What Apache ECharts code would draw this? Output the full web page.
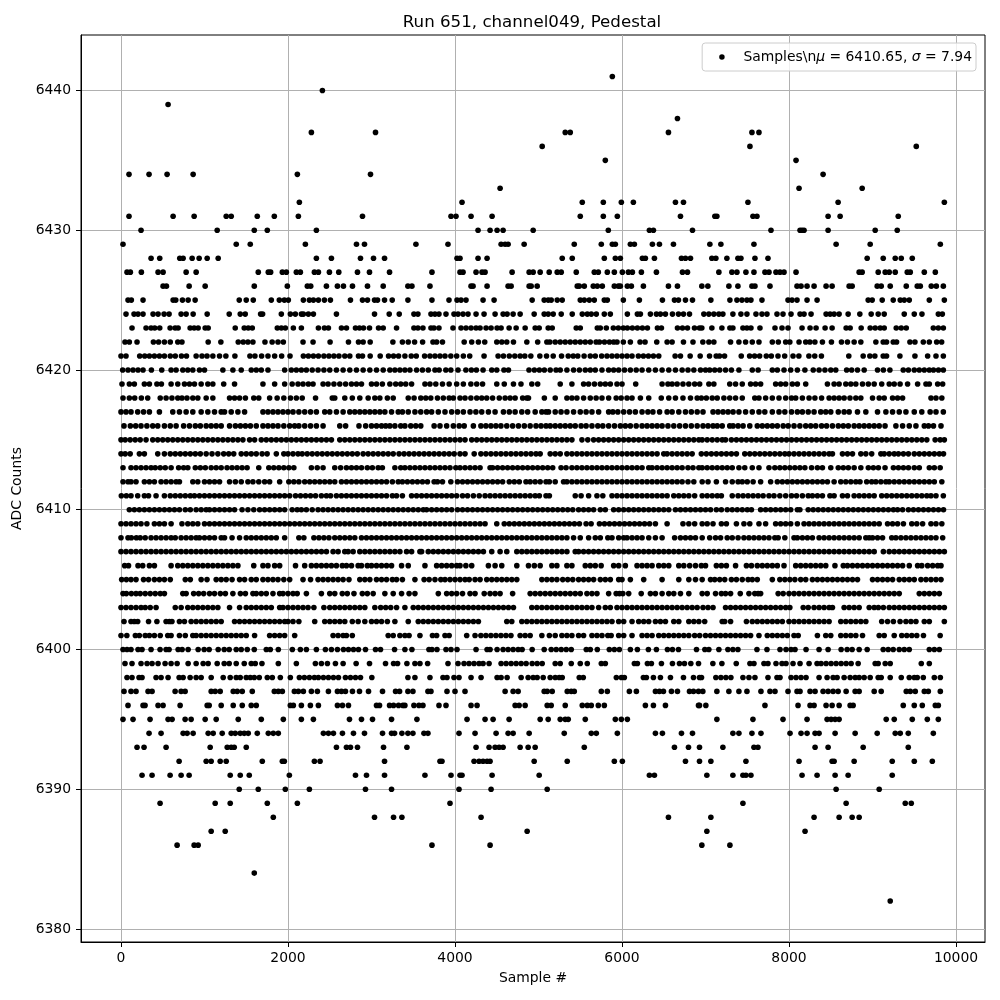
<!DOCTYPE html>
<html><head><meta charset="utf-8">
<style>html,body{margin:0;padding:0;background:#fff}#c{width:1000px;height:1000px}</style>
<script src="https://cdn.jsdelivr.net/npm/echarts@6/dist/echarts.min.js"></script>
</head><body><div id="c"></div>
<script>
const titleText = 'Run 651, channel049, Pedestal';
const xName = 'Sample #';
const yName = 'ADC Counts';
const xTicks = [0,2000,4000,6000,8000,10000];
const yTicks = [6380,6390,6400,6410,6420,6430,6440];
// Sample numbers, one list per ADC level
const y6441=[5884];
const y6440=[2412];
const y6439=[564];
const y6438=[6664];
const y6437=[2280,3048,5320,5380,6556,7556,7640];
const y6436=[5044,7532,9524];
const y6435=[5800,8084];
const y6434=[96,336,552,864,2112,2988,8408];
const y6433=[4540,8120,8876];
const y6432=[2136,4084,5524,5776,5992,6136,6640,6736,7508,8588,9860];
const y6431=[96,624,876,1260,1320,1632,1836,2124,2892,3952,4012,4192,4444,5500,5776,5944,6700,7112,7136,7568,7616,8468,8612,9308];
const y6430=[240,1152,1596,1752,2340,4276,4420,4504,4576,4936,5836,6328,6376,6844,7784,8132,8156,8180,8468,9032,9296];
const y6429=[24,1380,1548,2208,2820,2916,3532,3916,4552,4600,4636,4828,5428,5752,5884,5920,6100,6148,6364,6448,6616,7052,7184,7580,8564,8972,9812];
const y6428=[360,464,704,744,852,936,1032,1164,2340,2520,2868,3024,3156,4024,4060,4276,4384,5284,5404,5788,5920,5980,6244,6280,6388,6712,6760,6820,7076,7124,7256,7388,7424,7592,7748,8936,9128,9272,9344,9476];
const y6427=[72,112,244,444,504,780,900,1644,1764,1792,1932,1980,2100,2148,2316,2364,2496,2608,2832,2976,3216,3724,4060,4096,4252,4324,4360,4684,4888,4936,5020,5128,5224,5272,5452,5668,5716,5824,5908,6004,6076,6124,6232,6412,6724,6784,7160,7316,7376,7484,7580,7712,7760,7844,7892,7940,8084,8840,8876,9068,9152,9200,9272,9416,9452,9620,9752];
const y6426=[504,544,816,1008,1596,1992,2232,2272,2460,2592,2664,2772,2952,3140,3436,3484,3700,4192,4216,4384,4636,4672,4888,4912,4984,5464,5488,5548,5656,5704,5764,5908,5956,5980,6064,6112,6256,6556,6664,6956,7028,7280,7388,7556,7592,7772,8096,8144,8216,8300,8444,8516,8720,8756,9056,9104,9212,9404,9536,9572,9704,9764,9848];
const y6425=[84,124,264,624,656,736,804,888,1416,1500,1584,1800,1896,1956,2004,2184,2256,2304,2364,2436,2508,2748,2892,2952,3036,3072,3156,3248,3436,3724,3928,4024,4072,4132,4336,4468,4924,5068,5116,5152,5224,5284,5500,5548,5608,5668,5788,5824,6016,6208,6484,6628,6676,6760,6844,7064,7292,7376,7436,7496,7544,7676,7988,8036,8096,8216,8336,8948,8996,9116,9248,9332,9380,9440,9680,9860];
const y6424=[60,156,204,264,384,444,516,576,720,780,864,1032,1296,1428,1488,1672,1696,1920,2028,2088,2160,2184,2244,2304,2580,3036,3212,3332,3508,3556,3712,3760,3808,3892,3988,4036,4096,4156,4252,4348,4480,4576,4624,4696,4780,4948,5068,5116,5176,5272,5404,5524,5584,5632,5692,5788,5860,6064,6184,6220,6340,6412,6460,6520,6604,6676,6736,6808,6980,7040,7100,7160,7208,7328,7424,7496,7604,7676,7736,7856,7928,8024,8132,8180,8264,8444,8492,8540,8600,8708,8848,8984,9068,9140,9380,9500,9592,9788,9836];
const y6423=[132,300,360,404,464,588,648,684,828,876,924,1008,1044,1368,1476,1524,1572,1872,1920,1968,2064,2160,2364,2436,2484,2640,2700,2808,2856,2904,2976,3084,3140,3300,3508,3556,3616,3712,3748,3808,3976,4072,4132,4192,4252,4300,4372,4432,4504,4552,4648,4732,4840,4960,5008,5116,5164,5452,5500,5704,5740,5812,5896,5956,6016,6064,6124,6184,6244,6304,6424,6472,6664,6724,6784,6868,6928,6956,7076,7196,7292,7328,7448,7496,7544,7652,7832,7916,7988,8156,8252,8324,8432,8516,8684,8732,8864,8972,9032,9092,9140,9284,9344,9404,9728,9788,9848];
const y6422=[48,100,192,388,450,520,590,680,730,1044,1196,1404,1464,1520,1580,1724,1810,1880,1944,2180,2300,2504,2724,2844,2900,2984,3256,3370,3440,3516,3612,3736,3780,3850,4110,4200,4280,4356,4500,4560,4620,4700,4860,4990,5100,5136,5200,5260,5320,5380,5440,5500,5560,5620,5690,5730,5790,5850,5900,5940,6016,6100,6216,6276,6416,6540,6600,6736,6850,6968,7040,7100,7300,7400,7480,7560,7640,7800,7872,7960,8010,8120,8200,8250,8310,8400,8508,8628,8700,8780,8860,9040,9128,9168,9248,9288,9448,9508,9608,9680,9768,9828];
const y6421=[0,60,224,284,340,400,460,520,590,650,724,784,900,970,1030,1100,1180,1256,1364,1544,1604,1684,1760,1840,1924,2024,2184,2244,2304,2364,2430,2490,2550,2610,2680,2740,2844,2892,2984,3104,3204,3264,3324,3400,3476,3536,3636,3700,3760,3820,3880,3950,4020,4100,4176,4348,4516,4580,4650,4716,4780,4836,4908,5016,5096,5176,5276,5356,5416,5470,5546,5620,5680,5756,5820,5880,5940,6000,6060,6120,6196,6256,6316,6376,6440,6636,6700,6816,6936,7048,7128,7168,7228,7428,7528,7588,7648,7728,7788,7868,7948,8048,8118,8238,8308,8388,8716,8888,8968,9028,9128,9168,9328,9508,9660,9760,9848];
const y6420=[20,84,144,204,264,364,488,600,660,740,800,860,940,1000,1220,1340,1440,1560,1620,1680,1760,1960,2040,2100,2160,2220,2290,2360,2430,2500,2580,2660,2740,2820,2900,2980,3060,3140,3220,3280,3340,3400,3460,3540,3610,3680,3760,3810,3890,3950,4036,4130,4196,4256,4336,4440,4500,4586,4640,4886,4950,5010,5070,5140,5210,5260,5340,5420,5490,5560,5620,5680,5760,5840,5900,5960,6030,6100,6170,6240,6320,6400,6480,6560,6640,6720,6790,6860,6940,7000,7050,7110,7170,7240,7310,7400,7560,7630,7800,7860,7940,8020,8100,8190,8290,8360,8430,8500,8560,8690,8750,8820,8900,9060,9130,9208,9368,9430,9500,9560,9620,9680,9730,9790,9848];
const y6419=[12,100,160,280,340,430,484,600,680,760,820,880,960,1040,1100,1230,1360,1700,1840,1960,2050,2120,2180,2244,2300,2420,2480,2550,2620,2690,2760,2820,2880,3000,3060,3130,3220,3290,3350,3410,3480,3640,3700,3770,3850,3930,4020,4100,4190,4260,4330,4500,4590,4700,4790,4920,4990,5260,5400,5540,5600,5670,5740,5800,5860,5940,6000,6164,6480,6550,6600,6660,6730,6800,6870,6930,7040,7100,7290,7360,7440,7540,7600,7660,7840,7900,7960,8040,8100,8200,8460,8540,8600,8680,8740,8800,8880,8950,9020,9110,9200,9260,9330,9420,9540,9640,9680,9780,9840];
const y6418=[24,100,164,244,320,470,540,610,680,730,790,860,920,1020,1100,1300,1360,1420,1490,1590,1650,1780,1870,1950,2030,2100,2170,2330,2530,2560,2680,2770,2860,2960,3040,3100,3190,3260,3440,3510,3590,3650,3710,3790,3860,3930,3980,4060,4120,4190,4260,4320,4380,4450,4530,4600,4660,4720,4810,4860,4880,5070,5200,5340,5400,5460,5540,5620,5690,5760,5840,5930,5990,6060,6120,6220,6320,6470,6560,6640,6730,6820,6900,6950,7010,7080,7140,7220,7290,7360,7440,7590,7640,7720,7800,7880,7960,8030,8080,8160,8240,8310,8390,8480,8540,8600,8660,8730,8800,8860,9000,9080,9140,9240,9300,9360,9700,9760,9830];
const y6417=[0,60,120,200,270,340,460,620,700,780,860,960,1040,1120,1200,1240,1320,1400,1480,1700,1760,1820,1880,1940,2000,2060,2130,2200,2270,2340,2440,2500,2580,2660,2740,2800,2860,2920,2980,3040,3100,3160,3240,3320,3370,3440,3520,3590,3660,3720,3800,3880,3960,4030,4100,4180,4250,4320,4400,4480,4580,4650,4720,4800,4870,4960,5040,5090,5120,5200,5270,5340,5420,5500,5570,5640,5720,5840,5890,5950,6020,6090,6160,6240,6310,6370,6450,6540,6600,6680,6760,6830,6900,6970,7090,7150,7210,7270,7330,7400,7480,7560,7640,7710,7800,7880,7950,8030,8100,8160,8230,8300,8380,8440,8500,8590,8660,8720,8820,8920,9060,9160,9240,9320,9400,9500,9590,9690,9760,9848];
const y6416=[36,112,176,240,310,380,440,520,590,660,750,820,890,950,1020,1080,1140,1200,1300,1370,1430,1490,1550,1620,1700,1760,1820,1880,1950,2020,2080,2130,2200,2270,2340,2420,2620,2690,2850,2930,3000,3060,3120,3170,3220,3280,3350,3400,3470,3530,3590,3750,3820,3900,3980,4050,4110,4220,4310,4370,4430,4490,4550,4620,4690,4760,4830,4900,4970,5030,5090,5140,5200,5260,5320,5380,5440,5510,5570,5640,5710,5770,5840,5910,5980,6040,6100,6170,6240,6300,6360,6420,6480,6550,6620,6690,6760,6830,6900,6970,7030,7090,7140,7200,7290,7330,7390,7450,7530,7620,7680,7740,7800,7860,7930,7990,8060,8130,8200,8260,8320,8390,8450,8520,8590,8650,8710,8780,8840,8900,8960,9020,9080,9150,9280,9360,9440,9520,9620,9670,9730,9820];
const y6415=[0,50,110,170,230,300,380,440,500,560,620,680,740,800,860,920,980,1040,1100,1160,1220,1280,1340,1400,1460,1540,1600,1680,1740,1800,1860,1920,1980,2040,2100,2160,2220,2280,2340,2400,2460,2520,2620,2680,2740,2800,2860,2920,2980,3040,3100,3160,3220,3280,3340,3400,3460,3520,3580,3640,3700,3760,3820,3880,3940,4000,4060,4120,4200,4260,4320,4380,4440,4500,4560,4620,4680,4740,4800,4860,4920,4980,5040,5100,5160,5220,5280,5340,5400,5520,5590,5660,5720,5780,5840,5900,5960,6020,6080,6140,6200,6260,6320,6380,6440,6500,6560,6620,6680,6740,6800,6860,6920,6960,7020,7080,7140,7200,7240,7310,7370,7430,7490,7550,7610,7670,7730,7790,7850,7910,7970,8030,8090,8150,8210,8270,8330,8390,8450,8510,8570,8630,8690,8750,8810,8870,8930,8990,9050,9110,9170,9230,9290,9350,9410,9470,9530,9590,9650,9750,9810,9860];
const y6414=[0,50,110,220,280,440,520,590,650,710,770,830,890,950,1020,1090,1160,1230,1290,1350,1440,1500,1560,1620,1690,1750,1860,1950,2000,2060,2120,2170,2230,2290,2350,2410,2470,2530,2590,2650,2710,2770,2830,2900,2960,3020,3080,3140,3200,3260,3330,3390,3450,3510,3570,3630,3690,3750,3810,3870,3930,3990,4060,4120,4230,4310,4370,4430,4490,4550,4610,4670,4730,4790,4850,4910,4970,5020,5140,5200,5260,5340,5400,5460,5520,5580,5640,5700,5760,5820,5880,5940,6000,6060,6120,6180,6240,6300,6360,6420,6500,6540,6600,6660,6720,6780,6840,6950,7010,7070,7130,7190,7250,7310,7370,7470,7530,7590,7650,7710,7770,7830,7890,7950,8000,8060,8120,8180,8240,8300,8360,8420,8480,8520,8640,8700,8760,8860,8920,8990,9100,9140,9200,9260,9310,9370,9430,9500,9560,9620,9680,9740,9800,9850];
const y6413=[24,120,180,240,300,360,410,470,530,600,690,750,800,890,950,1010,1080,1140,1200,1270,1330,1390,1450,1510,1650,1770,1830,1890,1950,2010,2070,2280,2350,2420,2560,2630,2700,2760,2820,2880,2950,3010,3080,3130,3280,3350,3400,3460,3520,3580,3640,3700,3760,3820,3880,3940,4010,4060,4120,4180,4240,4300,4420,4450,4510,4570,4630,4690,4750,4810,4870,4930,4990,5050,5110,5170,5270,5330,5400,5460,5520,5580,5640,5700,5760,5820,5880,5940,6000,6060,6120,6180,6240,6320,6360,6420,6480,6540,6600,6660,6720,6790,6850,6920,6960,7020,7080,7140,7200,7260,7320,7400,7470,7560,7640,7760,7830,7890,7950,8010,8070,8130,8190,8270,8340,8400,8500,8590,8650,8710,8780,8860,8950,9010,9070,9150,9250,9310,9370,9430,9500,9560,9680,9740,9810];
const y6412=[24,84,120,180,280,340,400,480,540,600,660,700,860,920,1000,1060,1120,1180,1300,1370,1440,1520,1580,1650,1720,1780,1900,2010,2070,2130,2200,2260,2320,2380,2440,2500,2560,2640,2700,2760,2820,2880,2940,3000,3060,3120,3180,3250,3320,3370,3430,3490,3550,3610,3670,3750,3790,3850,3950,4030,4090,4150,4210,4270,4330,4390,4450,4510,4570,4650,4710,4770,4850,4900,4960,5020,5090,5130,5200,5300,5340,5400,5460,5520,5580,5640,5700,5760,5820,5880,5940,6000,6060,6120,6180,6240,6300,6360,6420,6480,6540,6600,6660,6720,6790,6860,6960,7030,7130,7240,7320,7390,7440,7500,7570,7660,7780,7860,7920,7980,8040,8100,8160,8220,8280,8340,8400,8460,8540,8620,8680,8740,8800,8850,8930,8990,9040,9100,9160,9200,9260,9320,9380,9440,9500,9560,9620,9680,9740,9830];
const y6411=[4,64,120,200,280,330,420,520,590,650,710,770,830,880,940,1000,1060,1120,1180,1240,1300,1360,1420,1480,1540,1600,1660,1720,1780,1840,1900,1960,2020,2090,2150,2210,2270,2330,2400,2460,2510,2580,2640,2700,2760,2820,2880,2940,3000,3060,3120,3180,3250,3300,3370,3480,3540,3600,3660,3720,3780,3840,3900,3960,4020,4090,4150,4220,4290,4360,4420,4480,4540,4600,4660,4720,4780,4840,4900,4960,5010,5090,5130,5440,5510,5600,5700,5770,5880,5940,6000,6060,6120,6180,6240,6300,6360,6420,6480,6540,6620,6680,6740,6800,6870,6960,7020,7080,7140,7190,7320,7390,7450,7510,7570,7630,7690,7760,7820,7890,7960,8030,8090,8160,8230,8280,8340,8400,8490,8540,8640,8700,8780,8840,8900,8960,9020,9110,9170,9230,9290,9350,9410,9470,9530,9590,9650,9700,9760,9848];
const y6410=[100,160,220,280,340,400,460,520,580,640,700,770,830,900,960,1020,1060,1120,1180,1240,1300,1360,1450,1520,1590,1660,1720,1780,1840,1900,1960,2050,2110,2160,2220,2290,2360,2420,2480,2540,2600,2660,2720,2780,2840,2900,2960,3020,3080,3140,3200,3260,3320,3380,3440,3500,3560,3620,3660,3720,3780,3840,3900,3960,4030,4090,4150,4210,4270,4330,4390,4450,4510,4570,4630,4690,4750,4810,4870,4930,4990,5050,5110,5170,5230,5290,5350,5410,5480,5540,5600,5660,5740,5800,5900,5960,6020,6080,6140,6200,6260,6320,6380,6440,6500,6560,6640,6700,6760,6820,6880,6940,7000,7060,7130,7190,7260,7320,7380,7440,7500,7550,7660,7720,7780,7840,7900,7960,8020,8100,8130,8230,8290,8350,8410,8470,8530,8590,8650,8710,8770,8830,8890,8950,9010,9070,9130,9190,9250,9300,9360,9430,9490,9550,9610,9670,9730,9790,9850];
const y6409=[0,60,120,180,240,310,400,460,520,600,730,800,860,920,1000,1060,1120,1180,1240,1300,1360,1420,1480,1540,1600,1660,1720,1780,1840,1900,1960,2020,2080,2140,2200,2260,2320,2380,2440,2500,2560,2620,2680,2740,2800,2860,2920,2980,3040,3100,3160,3220,3280,3340,3400,3460,3520,3580,3640,3700,3760,3820,3880,3940,4000,4060,4120,4180,4240,4300,4360,4500,4590,4650,4710,4770,4830,4890,4950,5010,5070,5130,5190,5250,5310,5370,5430,5490,5570,5630,5730,5790,5850,5910,5970,6030,6090,6150,6210,6270,6330,6400,6540,6730,6800,6870,6960,7020,7090,7190,7250,7370,7460,7530,7640,7720,7840,7900,7960,8020,8100,8180,8240,8300,8360,8420,8480,8540,8600,8660,8720,8780,8840,8900,8960,9020,9080,9180,9240,9300,9370,9470,9530,9600,9700,9760,9830];
const y6408=[0,84,124,184,230,290,360,420,480,540,600,650,720,780,840,900,940,1000,1060,1120,1200,1240,1330,1420,1500,1560,1620,1680,1740,1800,1860,1960,2130,2190,2310,2370,2430,2490,2560,2620,2680,2740,2800,2880,2940,3000,3060,3120,3180,3240,3300,3360,3420,3480,3540,3600,3660,3720,3780,3840,3900,3960,4020,4080,4140,4200,4260,4320,4380,4440,4500,4560,4620,4680,4740,4800,4860,4920,4980,5040,5100,5160,5220,5280,5340,5420,5500,5600,5680,5740,5830,5880,5960,6020,6060,6120,6180,6240,6320,6400,6480,6630,6700,6760,6820,6880,6960,7050,7120,7180,7260,7320,7390,7460,7520,7580,7640,7700,7760,7830,7870,7950,8060,8100,8160,8220,8280,8360,8420,8480,8540,8600,8660,8720,8780,8840,8920,8960,9000,9060,9120,9230,9280,9340,9400,9460,9520,9580,9640,9700,9760,9840];
const y6407=[0,60,120,180,240,300,360,420,480,540,600,660,720,780,840,900,960,1020,1080,1140,1200,1260,1320,1380,1440,1500,1560,1620,1680,1740,1800,1860,1920,1980,2040,2100,2160,2220,2280,2340,2400,2460,2540,2600,2680,2720,2780,2860,2920,2980,3040,3100,3160,3220,3280,3340,3420,3480,3580,3600,3680,3740,3800,3860,3920,3980,4040,4100,4160,4220,4280,4340,4440,4540,4620,4740,4800,4860,4920,4980,5040,5100,5160,5220,5280,5340,5440,5480,5540,5600,5660,5720,5780,5840,5900,5960,6020,6080,6140,6200,6260,6320,6380,6440,6500,6560,6620,6680,6740,6800,6860,6920,6980,7040,7100,7160,7220,7280,7340,7400,7460,7520,7580,7640,7700,7760,7820,7880,7940,8000,8060,8120,8180,8240,8300,8360,8420,8480,8540,8600,8660,8720,8780,8840,8900,8960,9020,9130,9200,9260,9320,9380,9440,9500,9560,9620,9680,9740,9800,9860];
const y6406=[44,90,204,260,340,400,600,680,740,800,860,920,980,1040,1100,1160,1220,1280,1340,1400,1590,1700,1760,1840,1900,2090,2200,2280,2340,2400,2460,2520,2580,2650,2700,2760,2840,2880,2950,3000,3060,3120,3180,3240,3360,3440,3640,3780,3840,3900,3960,4020,4060,4130,4200,4400,4480,4560,4740,4880,4950,5020,5160,5220,5340,5400,5560,5620,5680,5750,5900,5960,6040,6180,6240,6300,6360,6440,6500,6560,6680,6740,6810,6880,6950,7000,7130,7190,7250,7360,7490,7550,7620,7680,7740,7800,7860,7940,8080,8140,8200,8260,8320,8380,8440,8550,8650,8700,8760,8820,8880,8940,9000,9060,9120,9180,9240,9300,9360,9440,9540,9590,9660,9720,9780,9820];
const y6405=[8,64,120,180,270,330,400,460,520,590,770,830,960,1030,1140,1200,1260,1330,1420,1480,1560,1620,1700,1760,1820,1880,1950,2020,2180,2270,2360,2420,2480,2540,2600,2660,2730,2860,2920,2980,3060,3120,3180,3250,3300,3370,3520,3630,3690,3760,3830,3880,3940,4000,4060,4120,4170,4240,4300,4380,4440,4500,4560,4620,4680,4740,5040,5100,5160,5220,5290,5350,5410,5480,5540,5600,5660,5740,5800,5860,5960,6000,6100,6260,6480,6680,6800,6880,6960,7060,7110,7170,7230,7310,7370,7440,7510,7560,7620,7800,7890,7950,8010,8070,8140,8200,8280,8340,8400,8460,8520,8580,8640,8700,8760,8820,9000,9060,9120,9180,9240,9320,9380,9440,9500,9580,9640,9700,9760,9820];
const y6404=[24,64,124,180,230,290,350,410,470,520,740,780,870,930,990,1060,1120,1190,1250,1340,1430,1490,1580,1620,1680,1740,1820,1900,1940,2000,2060,2110,2220,2400,2500,2560,2650,2710,2790,2890,2950,3020,3160,3260,3360,3450,3520,3800,3900,3960,4020,4090,4180,4240,4350,4420,4480,4540,4690,4900,4960,5020,5080,5140,5200,5260,5320,5380,5440,5500,5580,5640,5700,5840,5930,5970,6010,6080,6230,6340,6400,6480,6560,6620,6700,6800,6960,7020,7120,7190,7240,7300,7416,7520,7590,7630,7660,7870,7930,8000,8060,8120,8180,8240,8300,8360,8420,8480,8540,8600,8660,8720,8780,8840,8900,8960,9020,9080,9140,9200,9260,9320,9560,9620,9680,9740,9800];
const y6403=[0,60,120,180,240,290,350,420,650,720,800,860,920,980,1040,1100,1160,1300,1420,1500,1560,1620,1680,1740,1800,1900,1940,2000,2060,2120,2180,2240,2310,2430,2500,2560,2620,2680,2740,2800,2860,2920,3040,3110,3170,3230,3300,3400,3500,3560,3620,3680,3740,3800,3860,3920,3980,4040,4100,4160,4220,4280,4340,4400,4460,4520,4580,4640,4700,4920,4980,5040,5100,5160,5220,5280,5340,5400,5460,5520,5580,5640,5720,5800,5860,5940,6000,6060,6120,6180,6240,6300,6360,6420,6480,6540,6600,6660,6720,6780,6840,6900,6970,7030,7090,7240,7300,7360,7420,7480,7540,7600,7660,7720,7780,7840,7900,7960,8010,8170,8230,8300,8360,8420,8480,8520,8660,8720,8780,8840,8960,9020,9070,9130,9200,9260,9320,9380,9440,9500,9560,9620,9680,9740,9800,9860];
const y6402=[36,120,160,200,330,430,540,580,610,700,760,840,900,960,1020,1080,1140,1200,1360,1420,1480,1540,1600,1660,1720,1780,1840,1900,1960,2000,2060,2130,2320,2440,2500,2560,2620,2680,2770,2840,2920,3000,3060,3120,3190,3280,3440,3560,3620,3680,3740,3800,3860,3920,3980,4040,4100,4160,4220,4280,4620,4680,4800,4860,4920,4980,5040,5100,5160,5220,5280,5340,5400,5460,5520,5580,5640,5700,5760,5820,5880,5960,6020,6120,6200,6260,6320,6400,6460,6520,6620,6680,6800,6860,6920,6990,7200,7230,7300,7490,7560,7620,7680,7740,7800,7860,7920,8000,8060,8120,8180,8240,8300,8360,8420,8480,8620,8680,8740,8800,8860,8920,9110,9180,9250,9330,9400,9460,9520,9620,9680,9860];
const y6401=[0,70,172,220,290,340,400,470,560,600,700,770,860,900,960,1020,1080,1140,1200,1260,1320,1380,1440,1500,1600,1780,1840,1900,1960,2080,2540,2600,2660,2700,2770,3200,3260,3340,3400,3450,3580,3730,3780,3880,3930,4140,4240,4310,4370,4430,4490,4550,4610,4670,4780,4840,4900,5040,5130,5200,5280,5340,5400,5480,5540,5640,5700,5760,5830,5870,5960,6020,6120,6240,6300,6360,6440,6500,6560,6620,6680,6740,6800,6870,6930,7000,7060,7120,7180,7240,7300,7360,7420,7480,7540,7640,7740,7800,7860,7920,7980,8060,8110,8340,8440,8500,8620,8680,8740,8800,8880,9080,9140,9260,9350,9410,9470,9530,9610,9810];
const y6400=[24,72,120,204,252,360,468,540,576,684,732,804,924,996,1056,1164,1236,1296,1380,1440,1512,1596,1740,1788,1884,2052,2148,2220,2340,2448,2520,2592,2664,2724,2784,2844,2928,3048,3108,3276,3400,3484,3688,3724,3784,3892,3952,4024,4252,4384,4420,4504,4576,4636,4696,4756,4804,4924,5068,5152,5212,5272,5332,5392,5572,5620,5704,5848,5908,5968,6100,6184,6316,6412,6544,6604,6676,6892,6992,7040,7160,7268,7328,7388,7616,7736,7892,7964,8024,8072,8204,8360,8468,8624,8696,8756,8840,8936,9128,9188,9248,9320,9380,9440,9680,9740,9800];
const y6399=[48,132,240,312,372,444,528,600,672,804,900,984,1044,1152,1236,1296,1380,1476,1560,1608,1688,1884,2100,2328,2400,2472,2568,2660,2816,2976,3168,3264,3312,3424,3520,3580,3672,3916,4036,4108,4168,4228,4288,4336,4408,4552,4612,4672,4732,4792,4852,4924,4984,5044,5200,5260,5392,5500,5584,5752,5800,6148,6184,6304,6352,6472,6604,6688,6748,6824,6916,7088,7196,7368,7532,7580,7700,7748,7844,7916,7964,8048,8132,8240,8336,8384,8444,8504,8564,8624,8684,8744,8828,9032,9068,9152,9212,9584,9680];
const y6398=[72,132,216,252,420,480,564,696,744,828,900,960,1080,1224,1308,1380,1428,1500,1548,1596,1656,1752,1812,1908,2028,2136,2196,2256,2316,2364,2424,2484,2544,2604,2688,2748,2808,2868,3004,3436,3520,3700,3856,3904,3988,4048,4192,4312,4504,4552,4624,4792,4876,4936,4984,5056,5140,5200,5248,5284,5488,5536,5932,5992,6028,6256,6292,6376,6460,6580,6736,6856,6928,6952,7124,7184,7244,7304,7448,7520,7592,7748,7856,7892,8024,8084,8144,8204,8360,8456,8528,8576,8660,8732,8792,8840,8900,8972,9068,9104,9212,9344,9440,9500,9536,9608,9740,9812];
const y6397=[36,120,180,324,372,648,720,768,1080,1128,1188,1344,1392,1452,1572,1836,1884,1932,2076,2124,2184,2280,2352,2484,2592,2640,2688,2772,2856,2964,3132,3288,3336,3436,3496,3676,3712,3904,4000,4120,4600,4696,4756,5068,5104,5164,5344,5392,5428,5752,5824,6088,6172,6400,6448,6496,6592,6664,6808,6856,6916,6968,7136,7280,7400,7496,7664,7772,7832,7988,8096,8132,8252,8312,8408,8468,8528,8588,8684,8792,8840,9020,9104,9404,9452,9512,9620,9668,9812];
const y6396=[84,264,288,444,504,708,1032,1056,1200,1344,1452,1560,1620,2028,2064,2160,2268,2364,2592,2652,2724,3060,3096,3216,3264,3324,3376,3400,3508,3568,3616,3808,3892,4192,4264,4720,4768,4840,5104,5152,5320,5524,5584,5632,5716,5788,6280,6376,6520,6916,6928,7004,7712,8108,8252,8300,8444,8516,8600,8732,8768,9368,9500,9596,9752,9788];
const y6395=[24,144,348,564,612,768,840,1008,1140,1404,1680,1944,2160,2304,2736,2880,3012,3240,3544,4144,4360,4456,4648,5020,5116,5260,5320,5356,5560,5920,5992,6064,7136,7568,7928,8216,8456,8504,8552,8600,9164,9260,9476,9656,9788];
const y6394=[336,480,744,792,864,1044,1104,1212,1320,1368,1428,1476,1524,1632,1764,1824,1884,2424,2484,2544,2652,2784,2916,3132,3240,3276,3364,3436,3496,3628,3676,4048,4240,4492,4636,4696,4888,5308,5632,5692,5944,6400,6484,6712,6844,7328,7400,7556,7664,8012,8144,8216,8312,8360,8552,8792,9056,9272,9332,9428,9728];
const y6393=[192,276,540,1068,1272,1320,1356,1500,2580,2700,2748,2832,3144,3424,4252,4408,4480,4528,4576,4780,4876,4960,5548,6628,6796,6928,7208,7580,7628,8312,8468,8888,9428];
const y6392=[696,1020,1080,1188,1260,1692,1932,1956,2316,2384,3156,3820,3844,4228,4288,4336,4384,4420,4948,5344,5908,6004,6760,6928,7064,7484,8120,8516,8540,8780,9236,9500,9716];
const y6391=[252,372,588,720,816,1308,1428,1536,2016,2808,2940,3156,3640,3952,4060,4084,4444,5008,6328,6388,7016,7328,7448,7484,7544,8156,8336,8552,8708,9236];
const y6390=[1416,1644,1968,2256,2928,3240,4048,4432,5104,8564,9080];
const y6389=[468,1128,1308,1752,2112,3940,7448,8684,9392,9464];
const y6388=[1824,3036,3264,3364,4312,6556,7064,8300,8600,8756,8840];
const y6387=[1080,1248,4864,7016,8192];
const y6386=[672,876,924,3724,4420,6956,7292];
const y6384=[1596];
const y6382=[9212];

const levels = {6441:y6441,6440:y6440,6439:y6439,6438:y6438,6437:y6437,6436:y6436,6435:y6435,6434:y6434,6433:y6433,6432:y6432,6431:y6431,6430:y6430,6429:y6429,6428:y6428,6427:y6427,6426:y6426,6425:y6425,6424:y6424,6423:y6423,6422:y6422,6421:y6421,6420:y6420,6419:y6419,6418:y6418,6417:y6417,6416:y6416,6415:y6415,6414:y6414,6413:y6413,6412:y6412,6411:y6411,6410:y6410,6409:y6409,6408:y6408,6407:y6407,6406:y6406,6405:y6405,6404:y6404,6403:y6403,6402:y6402,6401:y6401,6400:y6400,6399:y6399,6398:y6398,6397:y6397,6396:y6396,6395:y6395,6394:y6394,6393:y6393,6392:y6392,6391:y6391,6390:y6390,6389:y6389,6388:y6388,6387:y6387,6386:y6386,6384:y6384,6382:y6382};
const points = [];
for (const k of Object.keys(levels)) for (const s of levels[k]) points.push([s, +k]);

const font = '"DejaVu Sans"';
const axisCommon = {
  axisLine:{show:true,onZero:false,lineStyle:{color:'#000',width:1}},
  splitLine:{show:true,lineStyle:{color:'#b0b0b0',width:1,type:'solid'}}
};
const chart = echarts.init(document.getElementById('c'), null, {renderer:'canvas'});
chart.setOption({
  animation:false,
  backgroundColor:'#fff',
  title:{text:titleText,top:9,left:527,textAlign:'center',
    textStyle:{fontFamily:font,fontSize:16.67,fontWeight:'normal',color:'#000'}},
  legend:{show:true,right:24,top:43,orient:'horizontal',
    itemWidth:33,itemHeight:5.5,icon:'circle',
    padding:[7,4,7,17],borderColor:'#ccc',borderWidth:1,borderRadius:3,
    backgroundColor:'rgba(255,255,255,0.8)',
    formatter:()=>'{a|Samples\\n}{i|μ}{a| = 6410.65, }{i|σ}{a| = 7.94}',
    textStyle:{fontFamily:font,fontSize:13.9,color:'#000',
      rich:{a:{fontFamily:font,fontSize:13.9,color:'#000'},
            i:{fontFamily:font,fontSize:13.9,color:'#000',fontStyle:'italic'}}}},
  grid:{left:81,right:15,top:35,bottom:58,show:true,borderColor:'#000',borderWidth:1,backgroundColor:'#fff'},
  xAxis:Object.assign({type:'value',position:'bottom',min:-479,max:10347,
    name:xName,nameLocation:'middle',nameGap:29,
    nameTextStyle:{fontFamily:font,fontSize:13.9,color:'#000'},
    axisTick:{show:true,length:5,customValues:xTicks,lineStyle:{color:'#000'}},
    axisLabel:{show:true,customValues:xTicks,margin:9,fontFamily:font,fontSize:13.9,color:'#000',formatter:v=>String(v)}},axisCommon),
  yAxis:Object.assign({type:'value',position:'left',min:6379.07,max:6443.97,
    name:yName,nameLocation:'middle',nameGap:49,
    nameTextStyle:{fontFamily:font,fontSize:13.9,color:'#000'},
    axisTick:{show:true,length:5,customValues:yTicks,lineStyle:{color:'#000'}},
    axisLabel:{show:true,customValues:yTicks,margin:10,fontFamily:font,fontSize:13.9,color:'#000',formatter:v=>String(v)}},axisCommon),
  series:[{name:'Samples',type:'scatter',symbol:'circle',symbolSize:5.6,
    itemStyle:{color:'#000',opacity:1},data:points,silent:true,large:false,progressive:0}]
});
</script></body></html>
